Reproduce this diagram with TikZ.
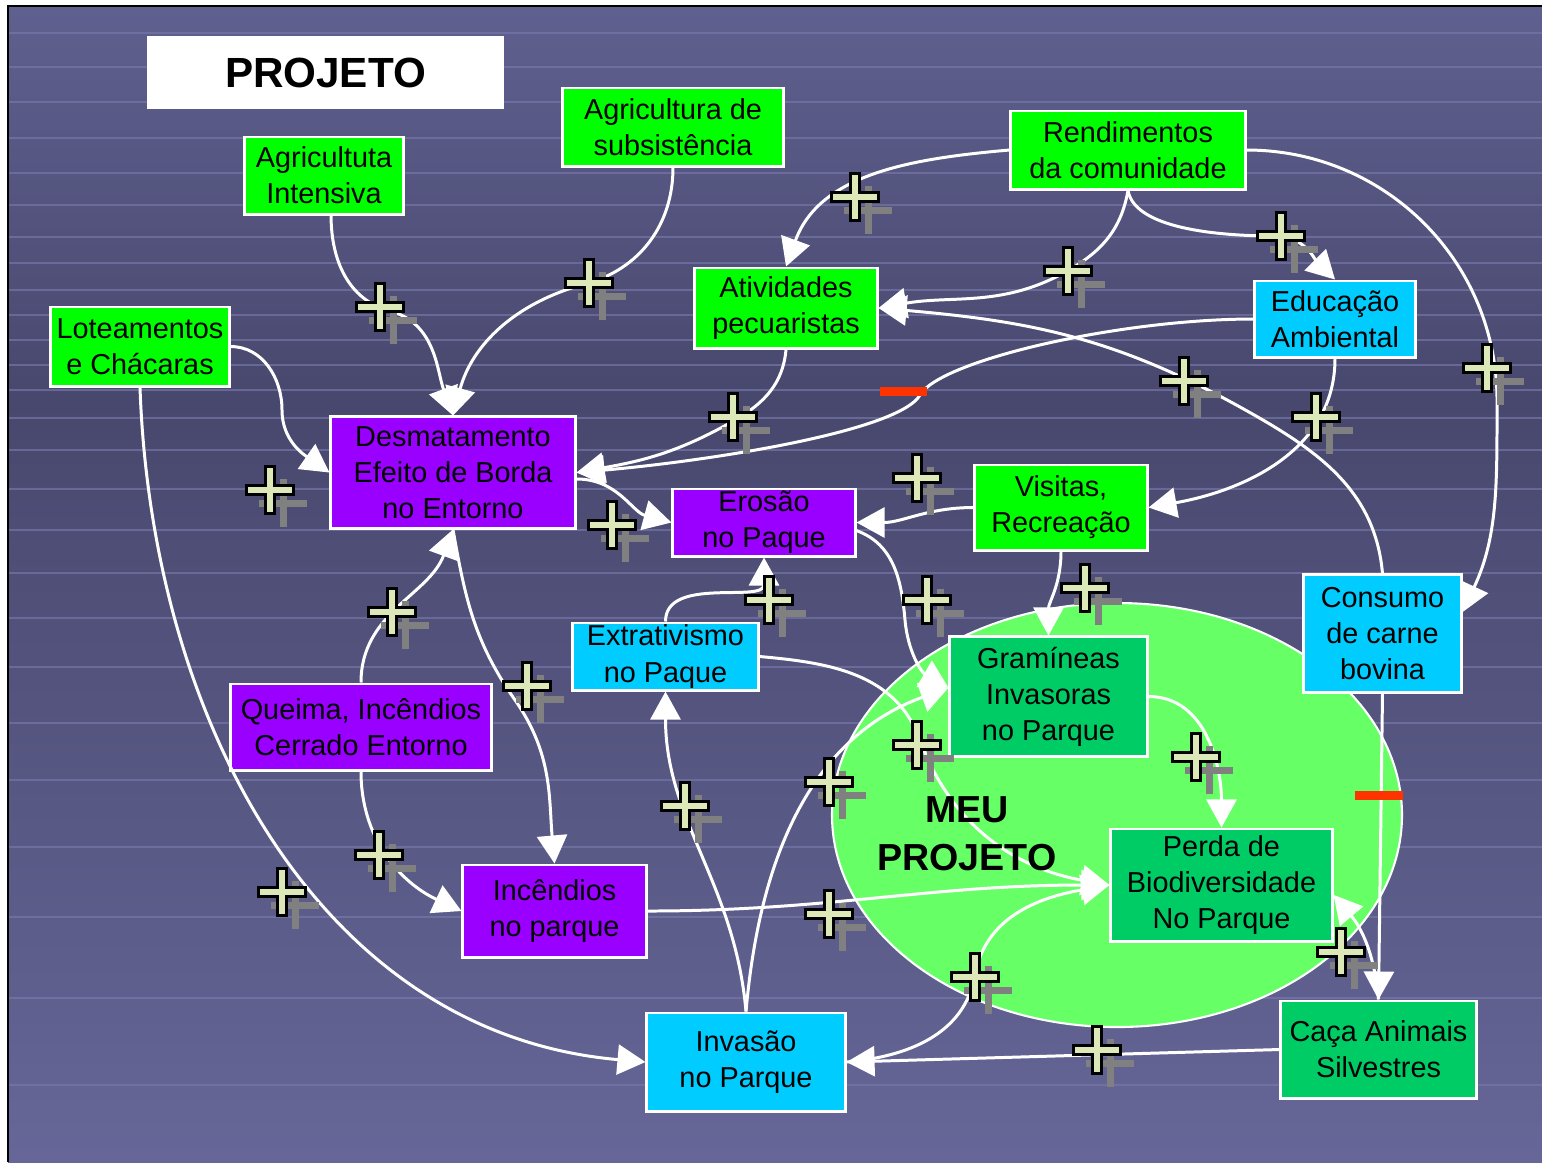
\documentclass[tikz,border=0pt]{standalone}
\usepackage{fontspec}
\setmainfont{Liberation Sans}
\usetikzlibrary{arrows.meta}

\definecolor{bgtop}{RGB}{96,96,144}
\definecolor{bgmid}{RGB}{72,72,110}
\definecolor{bgbot}{RGB}{102,102,152}
\definecolor{stripe}{RGB}{118,118,168}
\definecolor{boxgreen}{RGB}{0,255,0}
\definecolor{boxpurple}{RGB}{153,0,255}
\definecolor{boxcyan}{RGB}{0,204,255}
\definecolor{boxteal}{RGB}{0,204,102}
\definecolor{parkgreen}{RGB}{102,255,102}
\definecolor{plusfill}{RGB}{221,232,184}
\definecolor{plusshade}{RGB}{128,128,128}
\definecolor{minusred}{RGB}{255,51,0}

\begin{document}
\begin{tikzpicture}
  [x=0.01cm, y=0.01cm,
   box/.style={draw=white, line width=0.85pt, inner sep=0pt, align=center, text=black, font=\fontsize{8.2}{10.25}\selectfont},
   link/.style={draw=white, line width=0.85pt, -{Triangle[length=0.28cm, width=0.3cm]}},
   plus/.pic={
     \fill[plusshade] (9.5,-37) rectangle (16.5,11);
     \fill[plusshade] (-11,-16.5) rectangle (37,-9.5);
     \filldraw[fill=plusfill, draw=black, line width=0.75pt]
       (-4.6,-23.6) -- (4.6,-23.6) -- (4.6,-4.6) -- (23.6,-4.6) -- (23.6,4.6) -- (4.6,4.6)
       -- (4.6,23.6) -- (-4.6,23.6) -- (-4.6,4.6) -- (-23.6,4.6) -- (-23.6,-4.6) -- (-4.6,-4.6) -- cycle;
   }] % one unit = one pixel of the slide, y runs downwards as negative values

  \useasboundingbox (0,0) rectangle (1542,-1162);
  \fill[white] (0,0) rectangle (1542,-1162);
  \shade[top color=bgtop, bottom color=bgmid] (8,-6) rectangle (1542,-400);
  \shade[top color=bgmid, bottom color=bgbot] (8,-400) rectangle (1542,-1162);
  \foreach \yy in {33,67,102,138,173,205,237,263,290,315,340,365,390,418,450,489,530,573,618,667,723,780,847,917,998,1085}
    \draw[stripe, line width=0.8pt, opacity=0.7] (8,-\yy) -- (1542,-\yy);
  \draw[black, line width=0.4pt] (8,-1162) -- (8,-6) -- (1542,-6);

  \draw[white, line width=0.6pt, fill=parkgreen] (1117,-815) ellipse [x radius=285, y radius=212];

  \node[fill=white, minimum width=3.57cm, minimum height=0.73cm, font=\fontsize{12}{14}\selectfont\bfseries] (proj) at (325.5,-72.5) {PROJETO};

  \node[box, fill=boxgreen, minimum width=1.58cm, minimum height=0.77cm] (agri) at (324,-175.5) {Agricultuta\\Intensiva};
  \node[box, fill=boxgreen, minimum width=2.20cm, minimum height=0.78cm] (subs) at (673,-127) {Agricultura de\\subsistência};
  \node[box, fill=boxgreen, minimum width=2.34cm, minimum height=0.78cm] (rend) at (1128,-150) {Rendimentos\\da comunidade};
  \node[box, fill=boxgreen, minimum width=1.78cm, minimum height=0.79cm] (lote) at (140,-346.5) {Loteamentos\\e Chácaras};
  \node[box, fill=boxgreen, minimum width=1.82cm, minimum height=0.80cm] (ativ) at (786,-308) {Atividades\\pecuaristas};
  \node[box, fill=boxcyan, minimum width=1.60cm, minimum height=0.76cm] (educ) at (1335,-319) {Educação\\Ambiental};
  \node[box, fill=boxpurple, minimum width=2.44cm, minimum height=1.11cm] (desm) at (453,-472.5) {Desmatamento\\Efeito de Borda\\no Entorno};
  \node[box, fill=boxpurple, minimum width=1.82cm, minimum height=0.67cm] (eros) at (764,-522.5) {Erosão\\no Paque};
  \node[box, fill=boxgreen, minimum width=1.72cm, minimum height=0.85cm] (visi) at (1061,-507.5) {Visitas,\\Recreação};
  \node[box, fill=boxcyan, minimum width=1.57cm, minimum height=1.17cm] (cons) at (1382.5,-633.5) {Consumo\\de carne\\bovina};
  \node[box, fill=boxcyan, minimum width=1.85cm, minimum height=0.67cm] (extr) at (665.5,-656.5) {Extrativismo\\no Paque};
  \node[box, fill=boxpurple, minimum width=2.60cm, minimum height=0.86cm] (quei) at (361,-727) {Queima, Incêndios\\Cerrado Entorno};
  \node[box, fill=boxteal, minimum width=1.97cm, minimum height=1.19cm] (gram) at (1048.5,-696.5) {Gramíneas\\Invasoras\\no Parque};
  \node[box, fill=boxteal, minimum width=2.21cm, minimum height=1.12cm] (perd) at (1221.5,-885) {Perda de\\Biodiversidade\\No Parque};
  \node[box, fill=boxpurple, minimum width=1.83cm, minimum height=0.92cm] (ince) at (554.5,-911) {Incêndios\\no parque};
  \node[box, fill=boxcyan, minimum width=1.98cm, minimum height=0.98cm] (inva) at (746,-1062) {Invasão\\no Parque};
  \node[box, fill=boxteal, minimum width=1.95cm, minimum height=0.97cm] (caca) at (1378.5,-1049.5) {Caça Animais\\Silvestres};

  \draw[link] (agri.-80) to[out=-90,in=165] (390,-311) to[out=-15,in=110] (desm.north);
  \draw[link] (subs.south) to[out=-90,in=15] (585,-284) to[out=195,in=75] (desm.north);
  \draw[link] (rend.west) to[out=185,in=70] (ativ.north);
  \draw[link] (rend.south) to[out=-100,in=30] (1069,-270) to[out=210,in=10] (ativ.east);
  \draw[link] (rend.south) to[out=-80,in=180,looseness=0.7] (1275,-236) to[out=0,in=135] (educ.north);
  \draw[link] (rend.east) to[out=0,in=90] (1497,-400) to[out=-90,in=65] (cons.15);
  \draw[link] (educ.west) to[out=180,in=60,in looseness=0.3] (920,-395) to[out=240,in=5,out looseness=0.3] (desm.east);
  \draw[link] (ativ.south) to[out=-95,in=30] (735,-420) to[out=210,in=10] (desm.east);
  \draw[link] (educ.south) to[out=-90,in=10] (visi.east);
  \draw[link] (lote.east) to[out=0,in=90] (282,-410) to[out=-90,in=145] (desm.west);
  \draw[link] (lote.south) to[out=-88,in=175] (inva.west);
  \draw[link] (desm.-3) to[out=0,in=165] (eros.west);
  \draw[link] (visi.west) to[out=180,in=0] (eros.east);
  \draw[link] (eros.-5) to[out=-20,in=95] (905,-620) to[out=-85,in=150] (gram.175);
  \draw[link] (extr.north) to[out=90,in=-90] (eros.south);
  \draw[link] (inva.north) to[out=95,in=-90] (extr.south);
  \draw[link] (inva.north) to[out=85,in=200] (gram.175);
  \draw[link] (extr.east) to[out=-5,in=110] (920,-740) to[out=-70,in=170] (perd.west);
  \draw[link] (ince.east) to[out=0,in=180] (perd.west);
  \draw[link] (inva.east) to[out=5,in=-100] (975,-975) to[out=80,in=190] (perd.west);
  \draw[link] (caca.west) -- (inva.east);
  \draw[link] (gram.east) to[out=0,in=90] (perd.north);
  \draw[link] (visi.south) to[out=-90,in=90] (gram.north);
  \draw[link] (desm.south) to[out=-80,in=125] (515,-700) to[out=-55,in=95] (ince.north);
  \draw[link] (quei.north) to[out=90,in=-110] (desm.south);
  \draw[link] (quei.south) to[out=-90,in=155] (ince.west);
  \draw[link] (cons.north) to[out=95,in=-29] (1240,-407) to[out=151,in=-5] (ativ.east);
  \draw[link] (cons.south) -- (caca.north);
  \draw[link] (caca.north) to[out=95,in=-50] (perd.-5);

  \pic at (380,-307) {plus};
  \pic at (589,-283) {plus};
  \pic at (855,-197) {plus};
  \pic at (1068,-271) {plus};
  \pic at (1281,-236) {plus};
  \pic at (1487,-368) {plus};
  \pic at (1184,-381) {plus};
  \pic at (1316,-417) {plus};
  \pic at (733,-417) {plus};
  \pic at (270,-490) {plus};
  \pic at (917,-478) {plus};
  \pic at (612,-525) {plus};
  \pic at (769,-600) {plus};
  \pic at (927,-600) {plus};
  \pic at (1085,-588) {plus};
  \pic at (392,-612) {plus};
  \pic at (527,-686) {plus};
  \pic at (917,-745) {plus};
  \pic at (1196,-757) {plus};
  \pic at (685,-806) {plus};
  \pic at (829,-782) {plus};
  \pic at (379,-855) {plus};
  \pic at (282,-892) {plus};
  \pic at (829,-914) {plus};
  \pic at (975,-977) {plus};
  \pic at (1341,-952) {plus};
  \pic at (1097,-1050) {plus};

  \fill[minusred] (880,-387) rectangle (927,-396);
  \fill[minusred] (1355,-791) rectangle (1403,-800);

  \node[align=center, font=\fontsize{10.7}{13.7}\selectfont\bfseries] (meu) at (967,-834) {MEU\\PROJETO};

\end{tikzpicture}
\end{document}
